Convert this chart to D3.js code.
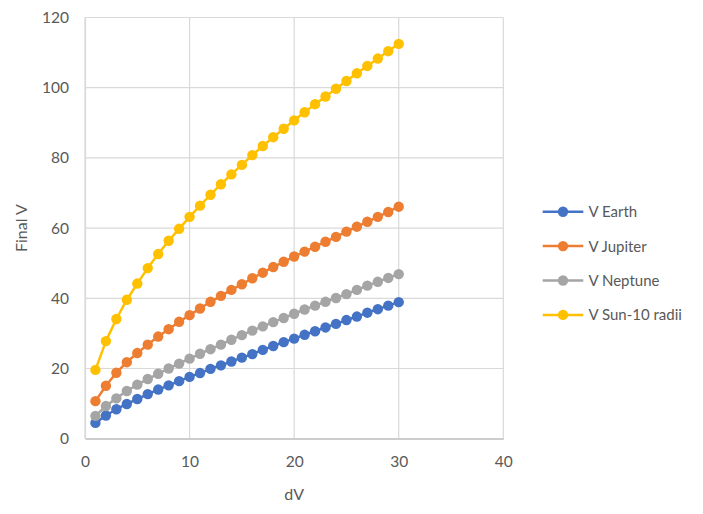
<!DOCTYPE html>
<html>
<head>
<meta charset="utf-8">
<script src="https://cdn.jsdelivr.net/npm/d3@7"></script>
<style>
  html, body { margin: 0; padding: 0; background: #fff; }
  svg { display: block; }
  text { font-family: Lato, "Open Sans", sans-serif; fill: #595959; }
</style>
</head>
<body>
<svg id="chart" width="703" height="514"></svg>
<script>
const dV = d3.range(1, 31);
const seriesNames = ["V Earth", "V Jupiter", "V Neptune", "V Sun-10 radii"];
const seriesColors = ["#4472C4", "#ED7D31", "#A5A5A5", "#FFC000"];
const vEarth = [4.5, 6.6, 8.4, 9.9, 11.3, 12.7, 14.0, 15.2, 16.4, 17.6, 18.7, 19.9, 20.9, 22.0, 23.1,
  24.1, 25.3, 26.4, 27.5, 28.5, 29.6, 30.6, 31.7, 32.7, 33.8, 34.8, 35.9, 36.9, 37.9, 38.9];
const vJupiter = [10.7, 15.1, 18.8, 21.8, 24.4, 26.8, 29.1, 31.2, 33.3, 35.2, 37.1, 39.0, 40.7, 42.4, 44.0,
  45.7, 47.3, 48.9, 50.4, 51.9, 53.3, 54.7, 56.1, 57.5, 59.0, 60.4, 61.8, 63.2, 64.6, 66.1];
const vNeptune = [6.5, 9.3, 11.5, 13.6, 15.4, 17.0, 18.5, 20.0, 21.4, 22.8, 24.2, 25.5, 26.8, 28.2, 29.5,
  30.8, 32.0, 33.2, 34.4, 35.6, 36.8, 37.9, 39.0, 40.1, 41.2, 42.4, 43.6, 44.7, 45.8, 46.9];
const vSun = [19.6, 27.8, 34.1, 39.6, 44.2, 48.6, 52.6, 56.4, 59.8, 63.2, 66.4, 69.5, 72.5, 75.3, 78.0,
  80.8, 83.4, 85.9, 88.3, 90.7, 93.0, 95.3, 97.5, 99.7, 101.9, 104.1, 106.2, 108.3, 110.4, 112.5];
const xTicks = [0, 10, 20, 30, 40];
const yTicks = [0, 20, 40, 60, 80, 100, 120];
const xTitle = "dV";
const yTitle = "Final V";

const seriesValues = [vEarth, vJupiter, vNeptune, vSun];

const svg = d3.select("#chart");
const plot = { left: 85, right: 503.3, top: 17.5, bottom: 438.7 };
const x = d3.scaleLinear().domain([0, 40]).range([plot.left, plot.right]);
const y = d3.scaleLinear().domain([0, 120]).range([plot.bottom, plot.top]);

// gridlines
const grid = svg.append("g");
grid.selectAll("line.h").data(yTicks).join("line")
  .attr("x1", plot.left).attr("x2", plot.right)
  .attr("y1", d => y(d)).attr("y2", d => y(d))
  .attr("stroke", "#d9d9d9").attr("stroke-width", 1.2);
grid.selectAll("line.v").data(xTicks).join("line")
  .attr("y1", plot.top).attr("y2", plot.bottom)
  .attr("x1", d => x(d)).attr("x2", d => x(d))
  .attr("stroke", "#d9d9d9").attr("stroke-width", 1.2);

// axes (tick labels only, Excel style)
const xAxis = d3.axisBottom(x).tickValues(xTicks).tickSize(0).tickPadding(17);
const gx = svg.append("g").attr("transform", `translate(0,${plot.bottom})`).call(xAxis);
gx.select(".domain").attr("stroke", "#bfbfbf").attr("stroke-width", 1.2);
gx.selectAll("text").style("font-size", "15.5px").attr("fill", "#595959")
  .style("font-family", "Lato, sans-serif");

const yAxis = d3.axisLeft(y).tickValues(yTicks).tickSize(0).tickPadding(16);
const gy = svg.append("g").attr("transform", `translate(${plot.left},0)`).call(yAxis);
gy.select(".domain").attr("stroke", "#d9d9d9").attr("stroke-width", 1.2);
gy.selectAll("text").style("font-size", "15.5px").attr("fill", "#595959")
  .style("font-family", "Lato, sans-serif");

// axis titles
svg.append("text").attr("x", (plot.left + plot.right) / 2).attr("y", 500)
  .attr("text-anchor", "middle").style("font-size", "16px").text(xTitle);
svg.append("text").attr("transform", `translate(27,${(plot.top + plot.bottom) / 2}) rotate(-90)`)
  .attr("text-anchor", "middle").style("font-size", "16px").text(yTitle);

// series
const line = d3.line().x((d, i) => x(dV[i])).y(d => y(d));
seriesValues.forEach((vals, k) => {
  const g = svg.append("g");
  g.append("path").attr("d", line(vals)).attr("fill", "none")
    .attr("stroke", seriesColors[k]).attr("stroke-width", 2.5).attr("stroke-linejoin", "round");
  g.selectAll("circle").data(vals).join("circle")
    .attr("cx", (d, i) => x(dV[i])).attr("cy", d => y(d)).attr("r", 5.2)
    .attr("fill", seriesColors[k]);
});

// legend
const legend = svg.append("g");
const legY = d3.scaleLinear().domain([0, 1]).range([211.7, 246.1]);
seriesNames.forEach((name, k) => {
  const yy = legY(k);
  legend.append("line").attr("x1", 542.7).attr("x2", 583.3).attr("y1", yy).attr("y2", yy)
    .attr("stroke", seriesColors[k]).attr("stroke-width", 2.5);
  legend.append("circle").attr("cx", 563).attr("cy", yy).attr("r", 5.2).attr("fill", seriesColors[k]);
  legend.append("text").attr("x", 588.5).attr("y", yy).attr("dy", "0.36em")
    .style("font-size", "15px").text(name);
});
</script>
</body>
</html>
